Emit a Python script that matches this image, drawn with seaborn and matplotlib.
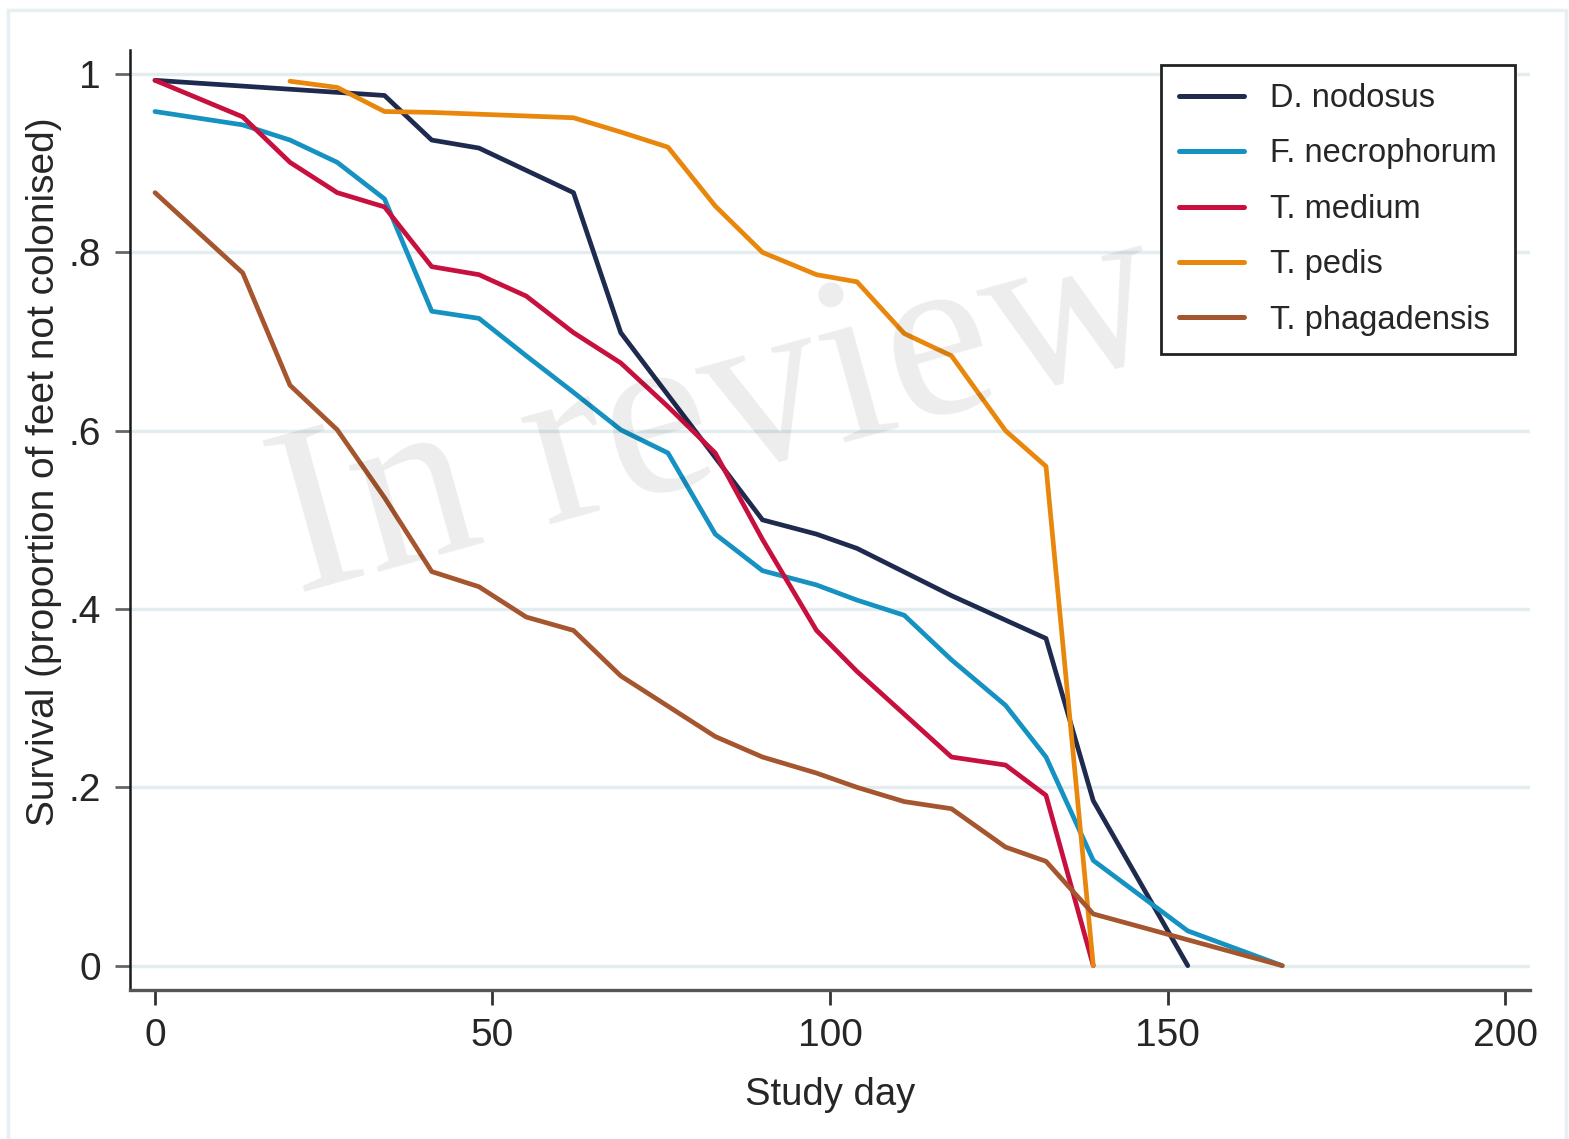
import numpy as np
import pandas as pd
import matplotlib
matplotlib.use("Agg")
import matplotlib.pyplot as plt
from matplotlib.patches import Rectangle
import seaborn as sns

# ---- data ----
organisms = ["D. nodosus", "F. necrophorum", "T. medium", "T. pedis", "T. phagadensis"]

d_days = [0, 34, 41, 48, 62, 69, 76, 83, 90, 98, 104, 118, 132, 139, 153]
d_vals = [0.993, 0.976, 0.926, 0.917, 0.867, 0.710, 0.640, 0.570, 0.500, 0.484, 0.468, 0.415, 0.367, 0.185, 0.0]

f_days = [0, 13, 20, 27, 34, 41, 48, 55, 62, 69, 76, 83, 90, 98, 104, 111, 118, 126, 132, 139, 153, 167]
f_vals = [0.958, 0.943, 0.926, 0.901, 0.860, 0.734, 0.726, 0.684, 0.643, 0.601, 0.575, 0.484, 0.443, 0.427, 0.410, 0.393, 0.343, 0.292, 0.234, 0.118, 0.039, 0.0]

m_days = [0, 13, 20, 27, 34, 41, 48, 55, 62, 69, 76, 83, 90, 98, 104, 111, 118, 126, 132, 139]
m_vals = [0.993, 0.952, 0.901, 0.867, 0.851, 0.784, 0.775, 0.751, 0.710, 0.676, 0.627, 0.575, 0.478, 0.376, 0.330, 0.282, 0.234, 0.225, 0.191, 0.0]

p_days = [20, 27, 34, 41, 48, 55, 62, 69, 76, 83, 90, 98, 104, 111, 118, 126, 132, 139]
p_vals = [0.992, 0.985, 0.958, 0.957, 0.955, 0.953, 0.951, 0.935, 0.918, 0.852, 0.800, 0.775, 0.767, 0.709, 0.684, 0.600, 0.560, 0.0]

g_days = [0, 13, 20, 27, 34, 41, 48, 55, 62, 69, 76, 83, 90, 98, 104, 111, 118, 126, 132, 139, 167]
g_vals = [0.867, 0.777, 0.651, 0.601, 0.525, 0.442, 0.425, 0.391, 0.376, 0.325, 0.291, 0.257, 0.234, 0.216, 0.200, 0.184, 0.176, 0.133, 0.117, 0.058, 0.0]

x_ticks = [0, 50, 100, 150, 200]
y_ticks = [0, 0.2, 0.4, 0.6, 0.8, 1.0]
y_tick_labels = ["0", ".2", ".4", ".6", ".8", "1"]

colors = ["#1E2A4E", "#1592C2", "#C8103F", "#E8870C", "#A5562E"]

series = [(organisms[0], d_days, d_vals), (organisms[1], f_days, f_vals),
          (organisms[2], m_days, m_vals), (organisms[3], p_days, p_vals),
          (organisms[4], g_days, g_vals)]
df = pd.concat([pd.DataFrame({"day": dd, "surv": vv, "organism": name})
                for name, dd, vv in series], ignore_index=True)

# ---- style ----
sns.set_theme(style="white")
plt.rcParams["font.family"] = ["Liberation Sans", "DejaVu Sans"]

fig = plt.figure(figsize=(15.69, 11.39), dpi=100)
fig.patch.set_facecolor("white")
ax = fig.add_axes([130/1569, 1 - 990/1139, 1400/1569, 940/1139])

# light outer frame
fig.patches.append(Rectangle((8/1569, -0.01), (1566 - 8)/1569, (1139 - 10)/1139 + 0.01,
                             transform=fig.transFigure, fill=False,
                             edgecolor="#E6EFF1", lw=2.5, zorder=0))

for yv in y_ticks:
    ax.axhline(yv, color="#E3EDF0", lw=2.5, zorder=0)

sns.lineplot(data=df, x="day", y="surv", hue="organism", hue_order=organisms,
             palette=colors, estimator=None, sort=False, lw=3.4, ax=ax, zorder=3)

ax.set_xlim(-3.7, 203.7)
ax.set_ylim(-0.0273, 1.027)
ax.set_xticks(x_ticks)
ax.set_xticklabels([str(v) for v in x_ticks])
ax.set_yticks(y_ticks)
ax.set_yticklabels(y_tick_labels)

for s in ["top", "right"]:
    ax.spines[s].set_visible(False)
ax.spines["left"].set_color("#1a1a1a")
ax.spines["left"].set_linewidth(1.8)
ax.spines["bottom"].set_color("#555555")
ax.spines["bottom"].set_linewidth(2.4)

ax.tick_params(axis="x", direction="out", length=11, width=2, color="#333333",
               labelsize=28, pad=9, bottom=True)
ax.tick_params(axis="y", direction="out", length=11, width=2, color="#666666",
               labelsize=28, pad=10, left=True)

ax.set_xlabel("Study day", fontsize=27.5, labelpad=17)
ax.set_ylabel("Survival (proportion of feet not colonised)", fontsize=28)
ax.yaxis.set_label_coords(-0.0486, 0.551)

handles, labels = ax.get_legend_handles_labels()
for h in handles:
    h.set_linewidth(3.6)
leg = ax.legend(handles, labels, loc="upper right", bbox_to_anchor=(0.989, 0.984),
                borderaxespad=0, fontsize=23.5, frameon=True, fancybox=False,
                framealpha=1, edgecolor="#222222", handlelength=2.0,
                handletextpad=0.78, labelspacing=0.75, borderpad=0.55)
leg.get_frame().set_linewidth(2)
leg.set_zorder(5)

# watermark
fig.text(296/1569, 1 - 594/1139, "In review", family="Liberation Serif",
         fontsize=172, color="#000000", alpha=0.075, rotation=15.5,
         rotation_mode="anchor", ha="left", va="baseline", zorder=10)

fig.savefig("out.png", dpi=100, facecolor="white")
